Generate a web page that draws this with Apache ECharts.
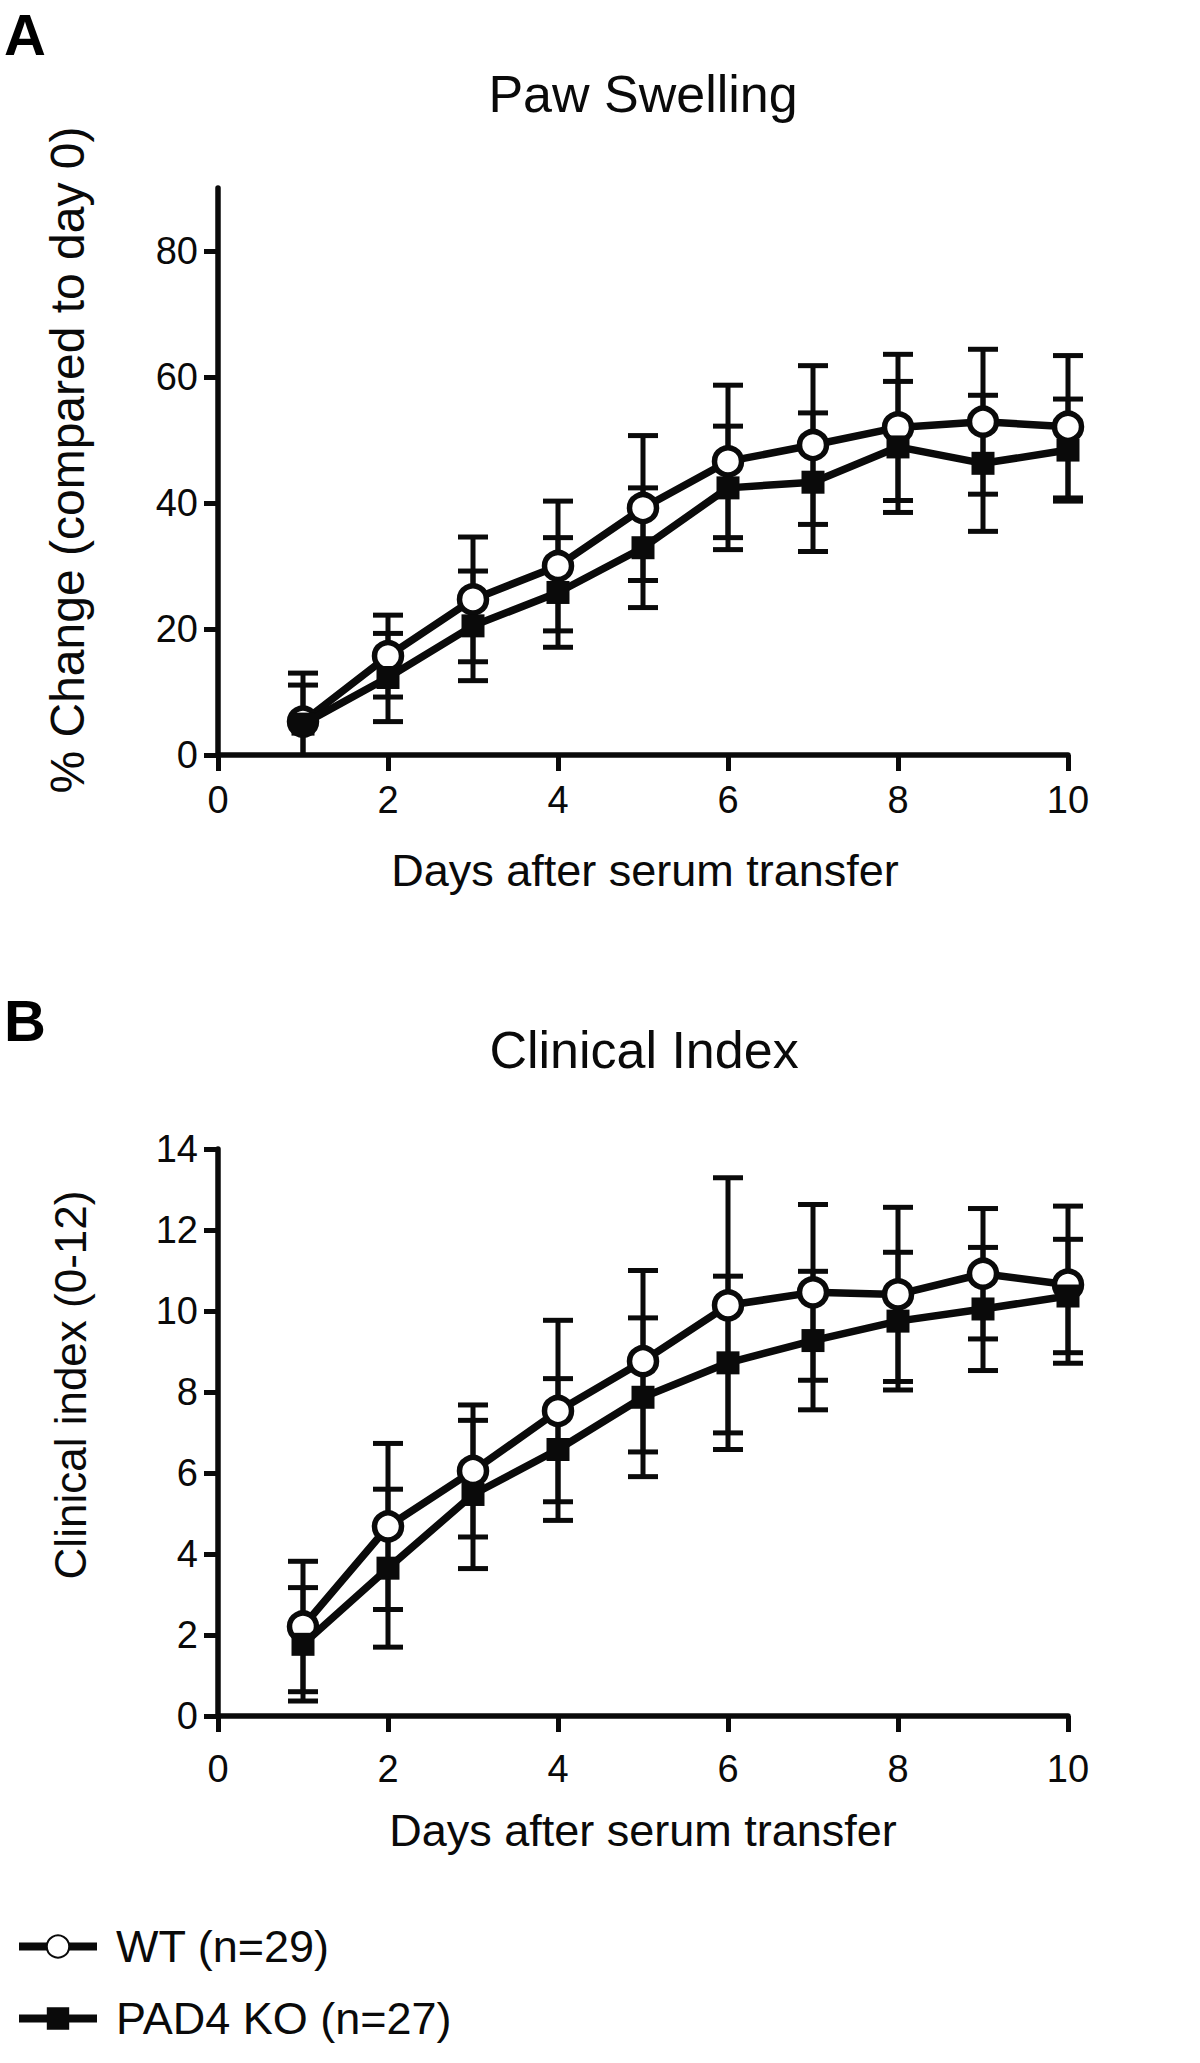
<!DOCTYPE html>
<html>
<head>
<meta charset="utf-8">
<script src="https://cdn.jsdelivr.net/npm/echarts@6/dist/echarts.min.js"></script>
<style>
html,body{margin:0;padding:0;background:#fff;}
#chart{width:1200px;height:2063px;}
</style>
</head>
<body>
<div id="chart"></div>
<script>
// ---- data ----
const days = [1, 2, 3, 4, 5, 6, 7, 8, 9, 10];
const xTicks = [0, 2, 4, 6, 8, 10];
const yTicksPaw = [0, 20, 40, 60, 80];
const yTicksCI = [0, 2, 4, 6, 8, 10, 12, 14];

const pawWT   = [5.3, 15.7, 24.7, 30.0, 39.2, 46.6, 49.2, 52.0, 52.9, 52.1];
const pawWTsd = [7.7, 6.5, 9.9, 10.3, 11.5, 12.1, 12.6, 11.6, 11.5, 11.3];
const pawKO   = [4.9, 12.3, 20.5, 25.8, 32.9, 42.4, 43.3, 48.9, 46.3, 48.4];
const pawKOsd = [6.2, 7.0, 8.7, 8.7, 9.5, 9.8, 11.0, 10.4, 10.8, 8.1];

const ciWT   = [2.21, 4.68, 6.05, 7.53, 8.76, 10.14, 10.46, 10.41, 10.92, 10.65];
const ciWTsd = [1.61, 2.05, 1.63, 2.24, 2.24, 3.15, 2.17, 2.15, 1.61, 1.94];
const ciKO   = [1.77, 3.65, 5.47, 6.58, 7.87, 8.72, 9.27, 9.75, 10.05, 10.37];
const ciKOsd = [1.40, 1.95, 1.83, 1.75, 1.96, 2.14, 1.71, 1.70, 1.52, 1.40];

const nameWT = 'WT (n=29)';
const nameKO = 'PAD4 KO (n=27)';

// ---- helpers ----
const FONT = '"Liberation Sans", Arial, Helvetica, sans-serif';
const INK = '#0a0a0a';

function pts(means) { return days.map((d, i) => [d, means[i]]); }
function errPts(means, sds) { return days.map((d, i) => [d, means[i], sds[i]]); }

function renderErr(params, api) {
  const x = api.value(0), m = api.value(1), s = api.value(2);
  const cs = params.coordSys;
  const yMin = cs.y, yMax = cs.y + cs.height;
  const top = api.coord([x, m + s]);
  const bot = api.coord([x, m - s]);
  const hw = 15;
  const st = { stroke: INK, lineWidth: 5, fill: null };
  const y1 = Math.max(top[1], yMin), y2 = Math.min(bot[1], yMax);
  const children = [
    { type: 'line', shape: { x1: top[0], y1: y1, x2: bot[0], y2: y2 }, style: st }
  ];
  if (top[1] >= yMin) children.push({ type: 'line', shape: { x1: top[0] - hw, y1: top[1], x2: top[0] + hw, y2: top[1] }, style: st });
  if (bot[1] <= yMax) children.push({ type: 'line', shape: { x1: bot[0] - hw, y1: bot[1], x2: bot[0] + hw, y2: bot[1] }, style: st });
  return { type: 'group', children: children };
}

function xAxisDef(gi, labelMargin) {
  return {
    type: 'value', gridIndex: gi, min: 0, max: 10, interval: 2,
    axisLine: { show: true, onZero: false, lineStyle: { color: INK, width: 5.5 } },
    axisTick: { show: true, inside: false, length: 16, lineStyle: { color: INK, width: 5 } },
    axisLabel: { show: true, margin: labelMargin, color: INK, fontSize: 38, fontFamily: FONT },
    splitLine: { show: false }
  };
}
function yAxisDef(gi, max, interval, ticks) {
  return {
    type: 'value', gridIndex: gi, min: 0, max: max, interval: interval,
    axisLine: { show: true, onZero: false, lineStyle: { color: INK, width: 5.5 } },
    axisTick: { show: true, inside: false, length: 14, customValues: ticks, lineStyle: { color: INK, width: 5 } },
    axisLabel: { show: true, margin: 20, color: INK, fontSize: 38, fontFamily: FONT, customValues: ticks },
    splitLine: { show: false }
  };
}

function lineSeries(name, gi, means, isWT) {
  return {
    type: 'line', name: name, xAxisIndex: gi, yAxisIndex: gi,
    data: pts(means), z: isWT ? 3 : 4,
    symbol: isWT ? 'circle' : 'rect',
    symbolSize: isWT ? 27 : 23,
    showSymbol: true,
    lineStyle: { color: INK, width: 7.5 },
    itemStyle: isWT ? { color: '#fff', borderColor: INK, borderWidth: 5.5 } : { color: INK, borderColor: INK, borderWidth: 0 },
    emphasis: { disabled: true },
    animation: false
  };
}
function errSeries(gi, means, sds) {
  return {
    type: 'custom', xAxisIndex: gi, yAxisIndex: gi, clip: false, z: 2,
    data: errPts(means, sds), renderItem: renderErr, animation: false, silent: true
  };
}

const chart = echarts.init(document.getElementById('chart'), null, { renderer: 'svg' });

const option = {
  backgroundColor: '#fff',
  animation: false,
  textStyle: { fontFamily: FONT, color: INK },
  grid: [
    { left: 218, top: 188, width: 850, height: 567 },
    { left: 218, top: 1149, width: 850, height: 567 }
  ],
  xAxis: [xAxisDef(0, 26), xAxisDef(1, 34)],
  yAxis: [yAxisDef(0, 90, 20, yTicksPaw), yAxisDef(1, 14, 2, yTicksCI)],
  legend: {
    orient: 'vertical', left: 10, top: 1919,
    itemWidth: 78, itemHeight: 28, itemGap: 27,
    data: [nameWT, nameKO],
    lineStyle: { width: 8, color: INK },
    textStyle: { fontSize: 45, fontFamily: FONT, color: INK, padding: [0, 0, 0, 14] },
    selectedMode: false
  },
  series: [
    errSeries(0, pawWT, pawWTsd),
    errSeries(0, pawKO, pawKOsd),
    lineSeries(nameWT, 0, pawWT, true),
    lineSeries(nameKO, 0, pawKO, false),
    errSeries(1, ciWT, ciWTsd),
    errSeries(1, ciKO, ciKOsd),
    lineSeries(nameWT, 1, ciWT, true),
    lineSeries(nameKO, 1, ciKO, false)
  ],
  graphic: [
    { type: 'text', x: 4, y: 34, style: { text: 'A', font: 'bold 58px ' + FONT, fill: '#000', textAlign: 'left', textVerticalAlign: 'middle' } },
    { type: 'text', x: 4, y: 1020, style: { text: 'B', font: 'bold 58px ' + FONT, fill: '#000', textAlign: 'left', textVerticalAlign: 'middle' } },
    { type: 'text', x: 643, y: 94, style: { text: 'Paw Swelling', font: '52px ' + FONT, fill: INK, textAlign: 'center', textVerticalAlign: 'middle' } },
    { type: 'text', x: 644, y: 1050, style: { text: 'Clinical Index', font: '52px ' + FONT, fill: INK, textAlign: 'center', textVerticalAlign: 'middle' } },
    { type: 'text', x: 645, y: 870, style: { text: 'Days after serum transfer', font: '45px ' + FONT, fill: INK, textAlign: 'center', textVerticalAlign: 'middle' } },
    { type: 'text', x: 643, y: 1830, style: { text: 'Days after serum transfer', font: '45px ' + FONT, fill: INK, textAlign: 'center', textVerticalAlign: 'middle' } },
    { type: 'text', x: 67, y: 460, rotation: Math.PI / 2, style: { text: '% Change (compared to day 0)', font: '48px ' + FONT, fill: INK, textAlign: 'center', textVerticalAlign: 'middle' } },
    { type: 'text', x: 70, y: 1385, rotation: Math.PI / 2, style: { text: 'Clinical index (0-12)', font: '44px ' + FONT, fill: INK, textAlign: 'center', textVerticalAlign: 'middle' } }
  ]
};
chart.setOption(option);
</script>
</body>
</html>
